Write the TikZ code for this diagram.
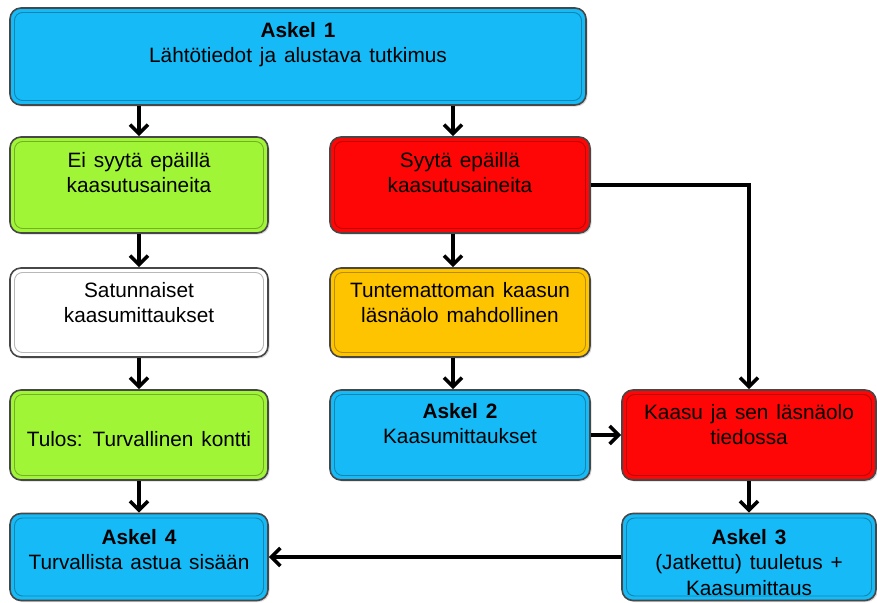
\documentclass[tikz,border=0pt]{standalone}
\usepackage{fontspec}
\setmainfont{Liberation Sans}
\usetikzlibrary{arrows.meta,calc,shadows}
\definecolor{bxblue}{RGB}{22,186,246}
\definecolor{bxgreen}{RGB}{160,245,55}
\definecolor{bxred}{RGB}{255,6,6}
\definecolor{bxorange}{RGB}{255,196,0}
\newcommand\myboxfont{\fontsize{20.8}{25.5}\selectfont\spaceskip 0.38em plus 0.1em\relax}
\tikzset{
  box/.style={draw=black!72, line width=1.6pt, rounded corners=11pt, inner sep=0pt,
    drop shadow={shadow xshift=1.5pt, shadow yshift=-1.5pt, opacity=0.3},
    path picture={\draw[black, draw opacity=0.28, line width=0.9pt, rounded corners=8pt]
      ([xshift=4.5pt,yshift=-4.5pt]path picture bounding box.north west) rectangle
      ([xshift=-4.5pt,yshift=4.5pt]path picture bounding box.south east);}},
  txt/.style={anchor=north, inner sep=0pt, align=center, font=\myboxfont},
  arr/.style={line width=3.8pt, -{Straight Barb[length=9pt,width=18pt,line width=3.6pt]}}
}
\begin{document}
\begin{tikzpicture}[x=1pt,y=-1pt]
\useasboundingbox (0,0) rectangle (877,602);
% boxes
\node[box, fill=bxblue,   minimum width=576pt, minimum height=97pt] (s1) at (298,56.5) {};
\node[box, fill=bxgreen,  minimum width=258pt, minimum height=96pt] (g1) at (139,185) {};
\node[box, fill=bxred,    minimum width=260pt, minimum height=96pt] (r1) at (460,185) {};
\node[box, fill=white,    minimum width=258pt, minimum height=89pt] (w1) at (139,312.5) {};
\node[box, fill=bxorange, minimum width=260pt, minimum height=89pt] (o1) at (460,312.5) {};
\node[box, fill=bxgreen,  minimum width=258pt, minimum height=90pt] (g2) at (139,435) {};
\node[box, fill=bxblue,   minimum width=260pt, minimum height=90pt] (s2) at (460,435) {};
\node[box, fill=bxred,    minimum width=254pt, minimum height=90pt] (r2) at (749,435) {};
\node[box, fill=bxblue,   minimum width=258pt, minimum height=87pt] (s4) at (139,557) {};
\node[box, fill=bxblue,   minimum width=254pt, minimum height=87pt] (s3) at (749,557) {};
% texts
\node[txt] (t1) at (298,22) {\textbf{Askel 1}\\Lähtötiedot ja alustava tutkimus};
\node[txt] (tg1) at (139,152) {Ei syytä epäillä\\kaasutusaineita};
\node[txt] (tr1) at (460,152) {Syytä epäillä\\kaasutusaineita};
\node[txt] (tw1) at (139,282) {Satunnaiset\\kaasumittaukset};
\node[txt] (to1) at (460,282) {Tuntemattoman kaasun\\läsnäolo mahdollinen};
\node[txt] (tg2) at (139,431) {Tulos: Turvallinen kontti};
\node[txt] (ts2) at (460,403) {\textbf{Askel 2}\\Kaasumittaukset};
\node[txt] (tr2) at (749,404) {Kaasu ja sen läsnäolo\\tiedossa};
\node[txt] (ts4) at (139,529) {\textbf{Askel 4}\\Turvallista astua sisään};
\node[txt] (ts3) at (749,529) {\textbf{Askel 3}\\(Jatkettu) tuuletus +\\Kaasumittaus};
% connectors
\coordinate (cr) at (453,0);
\draw[arr] (s1.south -| g1.north) -- (g1.north);
\draw[arr] (s1.south -| cr) -- (r1.north -| cr);
\draw[arr] (g1.south) -- (w1.north);
\draw[arr] (r1.south -| cr) -- (o1.north -| cr);
\draw[arr] (w1.south) -- (g2.north);
\draw[arr] (o1.south -| cr) -- (s2.north -| cr);
\draw[arr] (g2.south) -- (s4.north);
\draw[arr] (r1.east) -| (r2.north);
\draw[arr] (s2.east) -- (r2.west);
\draw[arr] (r2.south) -- (s3.north);
\draw[arr] (s3.west) -- (s4.east);
\end{tikzpicture}
\end{document}
